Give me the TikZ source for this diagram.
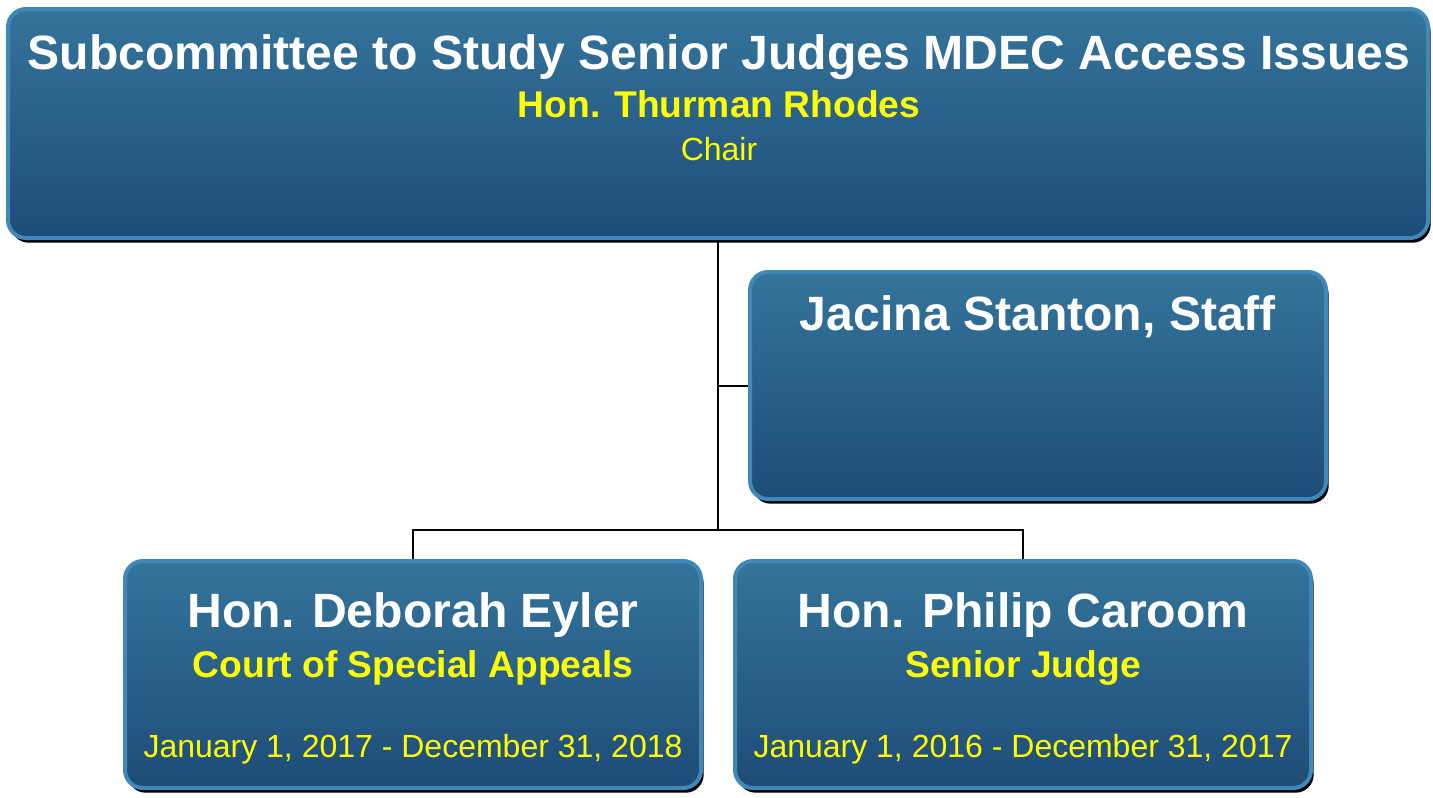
\documentclass[tikz,border=0pt]{standalone}
\usepackage{fontspec}
\setmainfont{Liberation Sans}
\usetikzlibrary{shadows}

\definecolor{boxtop}{RGB}{52,116,155}
\definecolor{boxbot}{RGB}{30,76,119}
\definecolor{boxrim}{RGB}{64,136,186}
\definecolor{namegold}{RGB}{255,255,0}

\tikzset{
  orgbox/.style={rectangle, rounded corners=13.5pt, draw=boxrim, line width=3pt,
    top color=boxtop, bottom color=boxbot,
    drop shadow={shadow xshift=2pt, shadow yshift=-3.5pt, fill=black, opacity=1}},
  headtext/.style={anchor=base, text=white, font=\fontsize{36.1}{40}\selectfont\bfseries},
  roletext/.style={anchor=base, text=namegold, font=\fontsize{27.9}{32}\selectfont\bfseries},
  datetext/.style={anchor=base, text=namegold, font=\fontsize{24}{28}\selectfont},
  link/.style={draw=black, line width=1.5pt}
}

\begin{document}
\begin{tikzpicture}[x=0.75pt, y=-0.75pt]
  \useasboundingbox (0,0) rectangle (1433,797);

  % Subcommittee box
  \node[orgbox, minimum width=1065pt, minimum height=171.75pt] (chair) at (718,123.5) {};
  \node[headtext] (title) at (719,69) {Subcommittee to Study Senior Judges MDEC Access Issues};
  \node[roletext] (chairname) at (719,117) {Hon. Thurman Rhodes};
  \node[datetext] (chairrole) at (719,160) {Chair};

  % Staff box
  \node[orgbox, minimum width=432pt, minimum height=170.25pt] (staff) at (1038,385.5) {};
  \node[headtext] (staffname) at (1038,330) {Jacina Stanton, Staff};

  % Members
  \foreach \nm/\x/\who/\role/\term in {
      eyler/413/{Hon. Deborah Eyler}/{Court of Special Appeals}/{January 1, 2017 - December 31, 2018},
      caroom/1023/{Hon. Philip Caroom}/{Senior Judge}/{January 1, 2016 - December 31, 2017}} {
    \node[orgbox, minimum width=432pt, minimum height=170.25pt] (\nm) at (\x,674.5) {};
    \node[headtext] (\nm-name) at (\x,627) {\who};
    \node[roletext] (\nm-role) at (\x,677) {\role};
    \node[datetext] (\nm-term) at (\x,757) {\term};
  }

  % Connectors
  \coordinate (split) at (718,530);
  \draw[link] (chair.south) -- (split);
  \draw[link] (staff.west -| chair.south) -- (staff.west);
  \draw[link] (split) -| (eyler.north);
  \draw[link] (split) -| (caroom.north);
\end{tikzpicture}
\end{document}
